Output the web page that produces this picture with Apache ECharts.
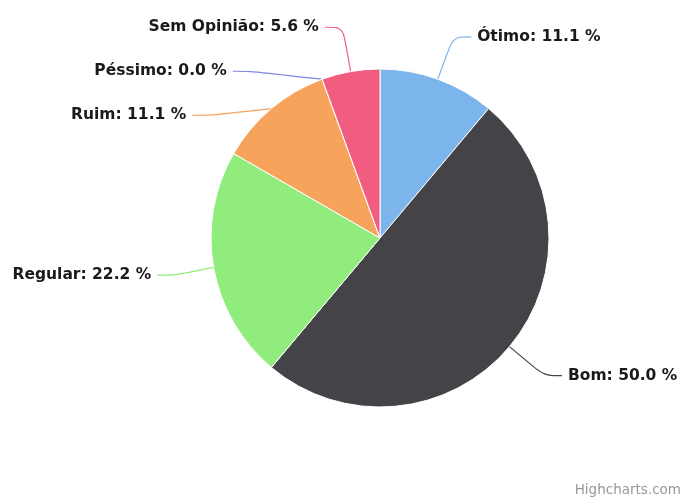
<!DOCTYPE html>
<html>
<head>
<meta charset="utf-8">
<script src="https://cdn.jsdelivr.net/npm/echarts@6/dist/echarts.min.js"></script>
<style>
    html, body {margin: 0; padding: 0; background: #fff;}
    #chart {width: 690px; height: 504px;}
</style>
</head>
<body>
<div id="chart"></div>
<script>
    let categories = ['Ótimo', 'Bom', 'Regular', 'Ruim', 'Péssimo', 'Sem Opinião'],
        counts = [2, 9, 4, 2, 0, 1],
        colors = ['#7cb5ec', '#434348', '#90ed7d', '#f7a35c', '#8085e9', '#f15c80']

    let option = {
        animation: false,
        title: {
            text: 'Highcharts.com',
            right: 4,
            bottom: 2,
            textStyle: {fontSize: 13.5, fontWeight: 'normal', color: '#999', fontFamily: 'DejaVu Sans'}
        },
        series: [{
            type: 'pie',
            center: [380, 238],
            radius: 169,
            startAngle: 90,
            percentPrecision: 1,
            itemStyle: {borderColor: '#fff', borderWidth: 1},
            label: {
                show: true,
                formatter: p => `${p.name}: ${p.percent.toFixed(1)} %`,
                fontFamily: 'DejaVu Sans',
                fontWeight: 'bold',
                fontSize: 15.5,
                // tall line box so the crowded left labels spread out like the original
                lineHeight: 42,
                color: '#1a1a1a',
                distanceToLabelLine: 6
            },
            labelLine: {show: true, length: 45, length2: 18, smooth: 0.3, lineStyle: {width: 1.2}},
            data: categories.map((c, i) => ({
                name: c,
                value: counts[i],
                itemStyle: {color: colors[i]}
            }))
        }]
    }
    echarts.init(document.getElementById('chart')).setOption(option)
</script>
</body>
</html>
